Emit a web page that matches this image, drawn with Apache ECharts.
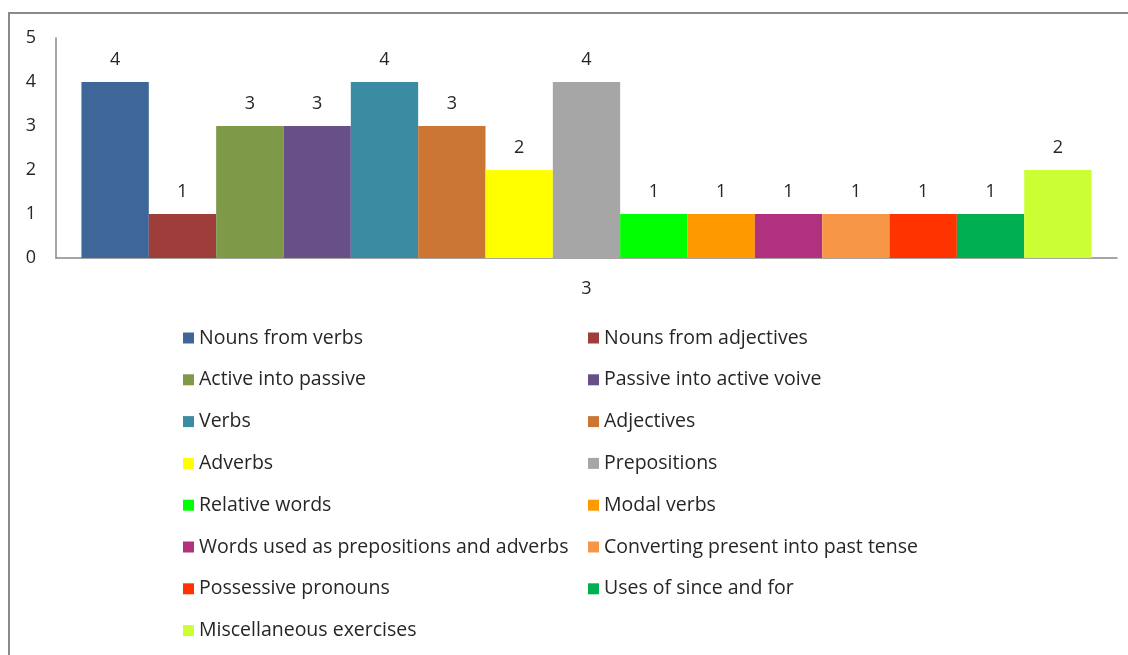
<!DOCTYPE html>
<html><head><meta charset="utf-8">
<script src="https://cdn.jsdelivr.net/npm/echarts@6/dist/echarts.min.js"></script>
<style>html,body{margin:0;padding:0;background:#fff}#c{width:1128px;height:655px}</style>
</head><body><div id="c"></div>
<script>
const categories = ['3'];
const seriesNames = ['Nouns from verbs','Nouns from adjectives','Active into passive','Passive into active voive','Verbs','Adjectives','Adverbs','Prepositions','Relative words','Modal verbs','Words used as prepositions and adverbs','Converting present into past tense','Possessive pronouns','Uses of since and for','Miscellaneous exercises'];
const seriesValues = [4,1,3,3,4,3,2,4,1,1,1,1,1,1,2];
const colors = ['#3E6699','#9E3D3A','#7E9A48','#674F88','#3A8CA3','#CC7635','#FFFF00','#A6A6A6','#00FF00','#FF9900','#B0317D','#F79646','#FF3300','#00B050','#CCFF33'];
const yTicks = [0,1,2,3,4,5];

const FONT = 'Open Sans';
const series = seriesNames.map((n,i)=>({
  name:n, type:'bar', data:[seriesValues[i]],
  itemStyle:{color:colors[i]},
  barGap:'0%', barCategoryGap:'4.8%',
  label:{show:true, position:'top', distance:13, color:'#262626', fontSize:18, fontFamily:FONT},
  emphasis:{disabled:true}
}));
const leftNames = seriesNames.filter((_,i)=>i%2===0);
const rightNames = seriesNames.filter((_,i)=>i%2===1);
const legendCommon = {orient:'vertical', icon:'rect', itemWidth:11, itemHeight:11, itemGap:21.8,
  textStyle:{fontSize:19.5, color:'#262626', fontFamily:FONT, lineHeight:20}, selectedMode:false};
const chart = echarts.init(document.getElementById('c'), null, {renderer:'canvas'});
chart.setOption({
  animation:false,
  color:colors,
  graphic:[{type:'rect', shape:{x:9, y:13, width:1300, height:800}, style:{fill:'none', stroke:'#8a8a8a', lineWidth:2}, silent:true}],
  grid:{left:56, right:11, top:38, bottom:397, containLabel:false},
  legend:[
    Object.assign({left:178, top:323, data:leftNames}, legendCommon),
    Object.assign({left:583, top:323, data:rightNames}, legendCommon)
  ],
  xAxis:{type:'category', data:categories,
    axisLine:{show:true, lineStyle:{color:'#888', width:1.5}}, axisTick:{show:false},
    axisLabel:{fontSize:18, color:'#262626', fontFamily:FONT, margin:22}},
  yAxis:{type:'value', min:0, max:5, interval:1,
    axisLine:{show:true, lineStyle:{color:'#888', width:1.5}}, axisTick:{show:false},
    splitLine:{show:false},
    axisLabel:{fontSize:18, color:'#262626', fontFamily:FONT, margin:20,
      formatter:v=>yTicks.includes(v)?String(v):''}},
  series:series
});
</script></body></html>
